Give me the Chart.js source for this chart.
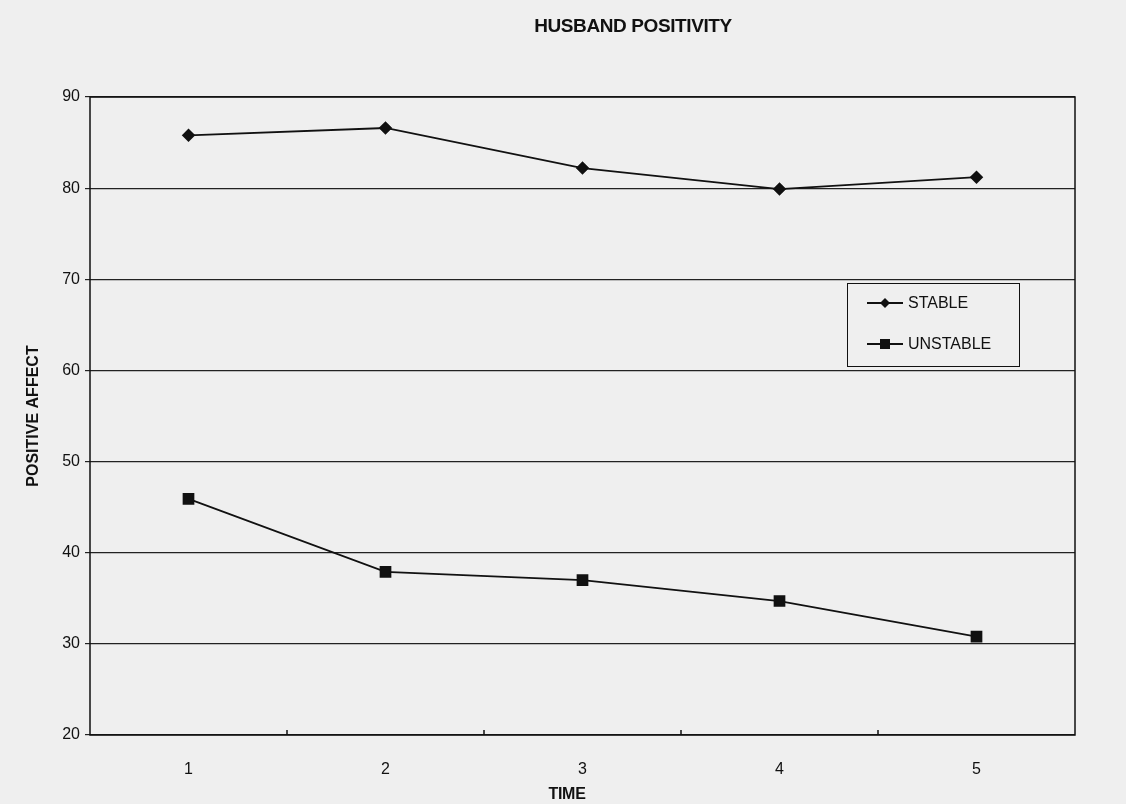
<!DOCTYPE html>
<html>
<head>
<meta charset="utf-8">
<script src="https://cdn.jsdelivr.net/npm/chart.js@4.4.1/dist/chart.umd.min.js"></script>
<style>
  html, body { margin: 0; padding: 0; background: #efefef; }
  #wrap { position: relative; width: 1126px; height: 804px; font-family: "Liberation Sans", Arial, sans-serif; color: #111; }
  #title { position: absolute; left: 513px; width: 240px; top: 15px; text-align: center; font-weight: bold; font-size: 19px; letter-spacing: -0.4px; }
  #xtitle { position: absolute; left: 527px; width: 80px; top: 785px; text-align: center; font-weight: bold; font-size: 16px; letter-spacing: -0.3px; }
  #legend { position: absolute; left: 847px; top: 283px; width: 173px; height: 84px; border: 1px solid #111; box-sizing: border-box; font-size: 16px; }
  #legend .row { position: absolute; left: 19px; display: flex; align-items: center; }
  #legend svg { margin-right: 5px; }
</style>
</head>
<body>
<div id="wrap">
  <canvas id="c" width="1126" height="804"></canvas>
  <div id="title">HUSBAND POSITIVITY</div>
  <div id="xtitle">TIME</div>
  <div id="legend">
    <div class="row" style="top:10px">
      <svg width="36" height="12"><line x1="0" y1="6" x2="36" y2="6" stroke="#111" stroke-width="1.8"/><polygon points="18,1 23,6 18,11 13,6" fill="#111"/></svg>STABLE
    </div>
    <div class="row" style="top:51px">
      <svg width="36" height="12"><line x1="0" y1="6" x2="36" y2="6" stroke="#111" stroke-width="1.8"/><rect x="13" y="1" width="10" height="10" fill="#111"/></svg>UNSTABLE
    </div>
  </div>
</div>
<script>
const times    = ["1", "2", "3", "4", "5"];
const stable   = [85.8, 86.6, 82.2, 79.9, 81.2];
const unstable = [45.9, 37.9, 37.0, 34.7, 30.8];
const ink = "#111";

const frame = {
  id: "frame",
  afterDraw(chart) {
    const { ctx, chartArea: a, scales: { x } } = chart;
    ctx.save();
    ctx.strokeStyle = ink;
    ctx.lineWidth = 1.5;
    ctx.strokeRect(a.left, a.top, a.right - a.left, a.bottom - a.top);
    // short inward ticks between categories
    for (let i = 1; i < times.length; i++) {
      const px = (x.getPixelForValue(i - 1) + x.getPixelForValue(i)) / 2;
      ctx.beginPath();
      ctx.moveTo(px, a.bottom);
      ctx.lineTo(px, a.bottom - 5);
      ctx.stroke();
    }
    ctx.restore();
  }
};

new Chart(document.getElementById("c"), {
  type: "line",
  data: {
    labels: times,
    datasets: [
      { label: "STABLE", data: stable, borderColor: ink, backgroundColor: ink, borderWidth: 1.8,
        pointStyle: "rectRot", pointRadius: 5.5, pointHoverRadius: 5.5 },
      { label: "UNSTABLE", data: unstable, borderColor: ink, backgroundColor: ink, borderWidth: 1.8,
        pointStyle: "rect", pointRadius: 7, pointHoverRadius: 7 }
    ]
  },
  options: {
    responsive: false,
    animation: false,
    layout: { padding: { top: 97, right: 51, left: 0, bottom: 0 } },
    plugins: { legend: { display: false }, title: { display: false }, tooltip: { enabled: false } },
    scales: {
      x: {
        offset: true,
        grid: { display: false },
        border: { display: false },
        ticks: { color: ink, padding: 17, font: { family: "Liberation Sans", size: 16 } },
        afterFit: s => { s.height = 69; }
      },
      y: {
        min: 20, max: 90,
        ticks: { stepSize: 10, color: ink, padding: 5, font: { family: "Liberation Sans", size: 16 } },
        grid: { color: "#222", lineWidth: 1.2, tickLength: 5 },
        border: { display: false },
        title: { display: true, text: "POSITIVE AFFECT", color: ink, padding: { top: 24, bottom: 0 },
                 font: { family: "Liberation Sans", size: 16, weight: "bold" } },
        afterFit: s => { s.width = 90; }
      }
    }
  },
  plugins: [frame]
});
</script>
</body>
</html>
